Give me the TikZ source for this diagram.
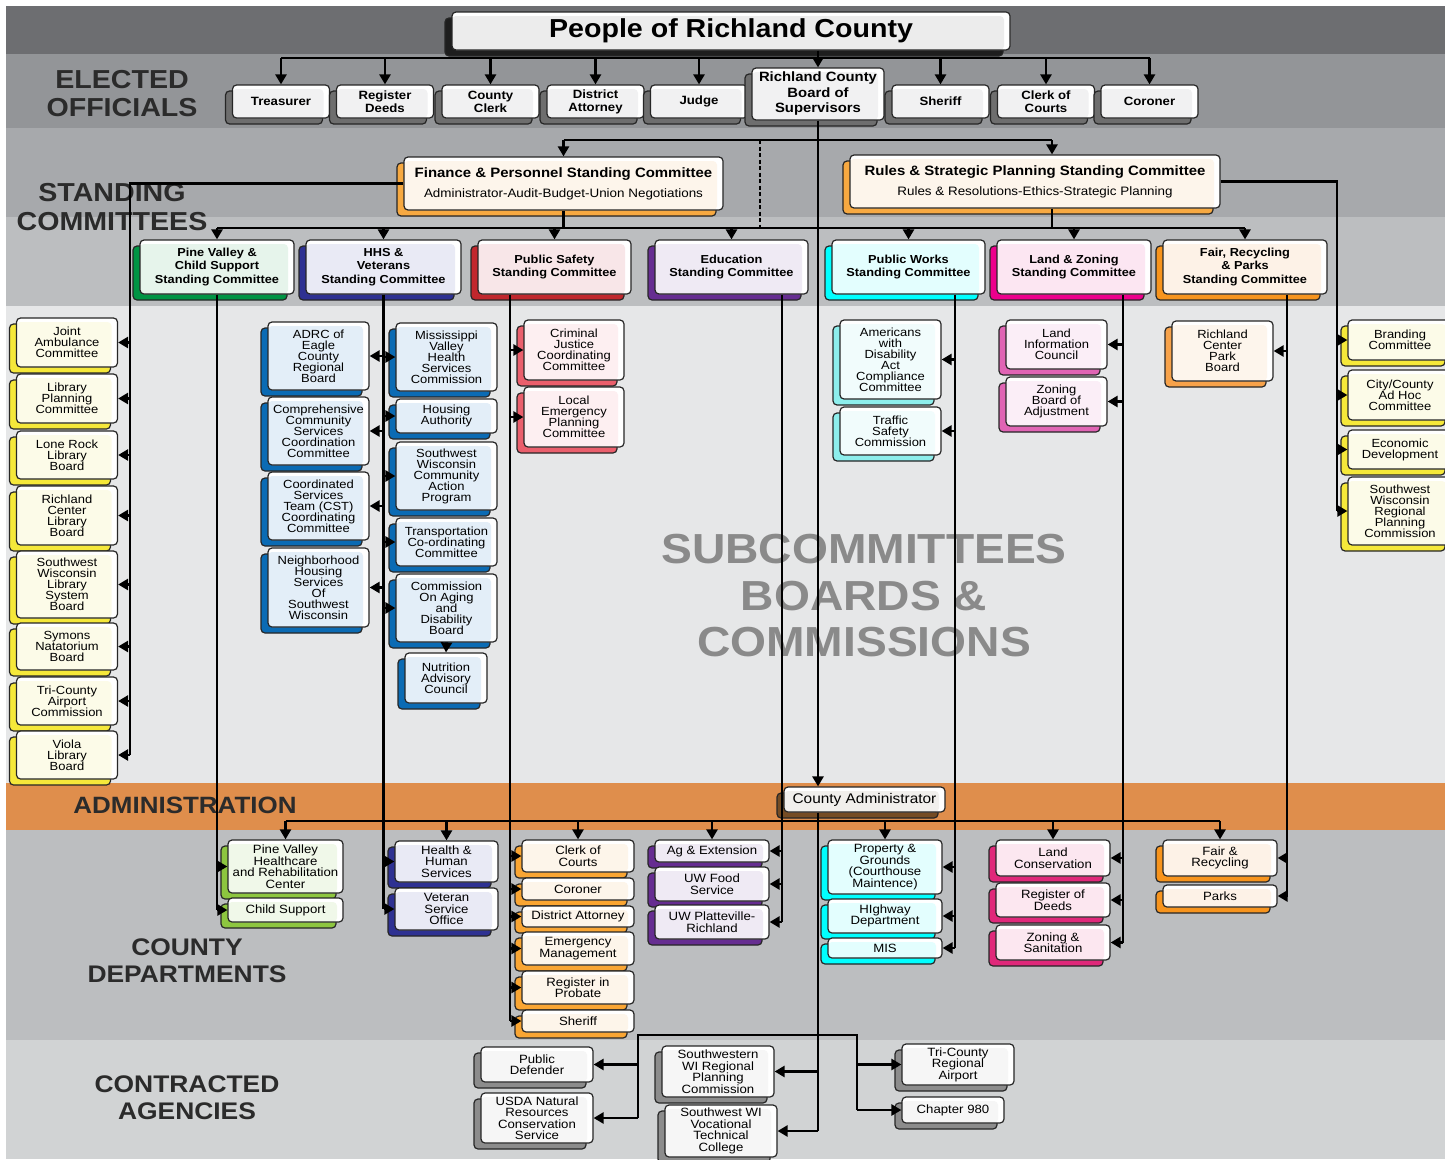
\documentclass[tikz,border=0pt]{standalone}
\usepackage{fontspec}
\setmainfont{Liberation Sans}[FakeStretch=1.1]
\usetikzlibrary{arrows.meta,shadows}

\definecolor{bandA}{HTML}{6D6E71}
\definecolor{bandB}{HTML}{939598}
\definecolor{bandC}{HTML}{A7A9AC}
\definecolor{bandD}{HTML}{BCBEC0}
\definecolor{bandE}{HTML}{E6E7E8}
\definecolor{bandF}{HTML}{DF8E4C}
\definecolor{bandG}{HTML}{BCBEC0}
\definecolor{bandH}{HTML}{D1D3D4}
\definecolor{headtext}{HTML}{2B2B2B}
\definecolor{marktext}{HTML}{8A8A8A}
\definecolor{grayS}{HTML}{6E6E6E}\definecolor{grayT}{HTML}{F1F1F2}
\definecolor{titleS}{HTML}{1E1E1E}\definecolor{titleT}{HTML}{ECECEC}
\definecolor{finS}{HTML}{F7A941}\definecolor{finT}{HTML}{FDF5EB}
\definecolor{pineS}{HTML}{009444}\definecolor{pineT}{HTML}{E6F4EB}
\definecolor{hhsS}{HTML}{2E3192}\definecolor{hhsT}{HTML}{E9EAF5}
\definecolor{safeS}{HTML}{C1272D}\definecolor{safeT}{HTML}{F8E6E8}
\definecolor{eduS}{HTML}{662D91}\definecolor{eduT}{HTML}{EFEAF4}
\definecolor{worksS}{HTML}{00FFFF}\definecolor{worksT}{HTML}{E3FEFE}
\definecolor{landS}{HTML}{EC008C}\definecolor{landT}{HTML}{FCE6F2}
\definecolor{fairS}{HTML}{F7941D}\definecolor{fairT}{HTML}{FDF2E7}
\definecolor{yelS}{HTML}{F5E83A}\definecolor{yelT}{HTML}{FCFBE8}
\definecolor{blueS}{HTML}{0B6BB4}\definecolor{blueT}{HTML}{E3EEF8}
\definecolor{redS}{HTML}{EA5F6C}\definecolor{redT}{HTML}{FDEFF1}
\definecolor{aquaS}{HTML}{8DEEEC}\definecolor{aquaT}{HTML}{F1FCFC}
\definecolor{orchS}{HTML}{E064B4}\definecolor{orchT}{HTML}{FBEEF7}
\definecolor{peachS}{HTML}{F7A24A}\definecolor{peachT}{HTML}{FDF5EC}
\definecolor{limeS}{HTML}{8DC63F}\definecolor{limeT}{HTML}{F0F8E9}
\definecolor{ambS}{HTML}{F9A533}\definecolor{ambT}{HTML}{FDF5EA}
\definecolor{crimS}{HTML}{E0287A}\definecolor{crimT}{HTML}{FCE7F0}
\definecolor{adminS}{HTML}{754C24}\definecolor{adminT}{HTML}{F1EFEC}
\definecolor{agS}{HTML}{8C8C8C}\definecolor{agT}{HTML}{F6F6F6}

\tikzset{
  >={Triangle[length=10pt,width=11pt]},
  wire/.style={line width=2.8pt},
  box/.style 2 args={draw=black!85, line width=1.2pt, rounded corners=4pt, fill=white,
    inner sep=1pt, align=center,
    general shadow={fill=#1, draw=black!85, line width=1.2pt, shadow xshift=-7pt, shadow yshift=-6pt},
    path picture={\fill[#2] (path picture bounding box.south west) rectangle ([xshift=-6pt,yshift=-4pt]path picture bounding box.north east);}},
  elect/.style={box={grayS}{grayT}, minimum width=97pt, minimum height=33pt, font=\fontsize{12}{13}\bfseries},
  stand/.style 2 args={box={#1}{#2}, minimum width=153pt, minimum height=54pt, font=\fontsize{11.6}{13.5}\bfseries},
  sub/.style 2 args={box={#1}{#2}, minimum width=101pt, font=\fontsize{11.8}{11}\selectfont},
  dept/.style 2 args={box={#1}{#2}, minimum width=114pt, font=\fontsize{12}{11.5}\selectfont},
  agency/.style={box={agS}{agT}, minimum width=112pt, font=\fontsize{12}{11.5}\selectfont},
  head/.style={align=center, text=headtext, font=\fontsize{26}{28}\bfseries},
}

\begin{document}
\begin{tikzpicture}[x=1pt,y=-1pt]
\useasboundingbox (0,0) rectangle (1445,1159);

% bands
\fill[bandA] (6,6) rectangle (1445,54);
\fill[bandB] (6,54) rectangle (1445,128);
\fill[bandC] (6,128) rectangle (1445,217);
\fill[bandD] (6,217) rectangle (1445,306);
\fill[bandE] (6,306) rectangle (1445,783);
\fill[bandF] (6,783) rectangle (1445,830);
\fill[bandG] (6,830) rectangle (1445,1040);
\fill[bandH] (6,1040) rectangle (1445,1159);

\node[head] (hElected) at (122,94) {ELECTED\\OFFICIALS};
\node[head, font=\fontsize{26}{29}\bfseries] (hStanding) at (112,207) {STANDING\\COMMITTEES};
\node[head, font=\fontsize{23.6}{26}\bfseries] (hAdmin) at (185,805) {ADMINISTRATION};
\node[head, font=\fontsize{24}{27}\bfseries] (hDept) at (187,961) {COUNTY\\DEPARTMENTS};
\node[head, font=\fontsize{24}{27}\bfseries] (hAgency) at (187,1098) {CONTRACTED\\AGENCIES};
\node[align=center, text=marktext, font=\fontsize{42}{46.5}\bfseries] (hSub) at (864,596) {SUBCOMMITTEES\\BOARDS \&\\COMMISSIONS};

% elected officials
\node[box={titleS}{titleT}, minimum width=558pt, minimum height=38pt, font=\fontsize{26}{28}\bfseries] (title) at (731,31) {People of Richland County};
\node[elect] (treas) at (281,101.5) {Treasurer};
\node[elect] (regdeeds) at (385,101.5) {Register\\Deeds};
\node[elect] (clerk) at (490.5,101.5) {County\\Clerk};
\node[elect] (da) at (595.5,101.5) {District\\Attorney};
\node[elect] (judge) at (699,101.5) {Judge};
\node[elect, minimum width=132pt, minimum height=52pt, font=\fontsize{13.5}{15.5}\bfseries] (board) at (818,94) {Richland County\\Board of\\Supervisors};
\node[elect] (sheriff) at (940.5,101.5) {Sheriff};
\node[elect] (clerkcourts) at (1046,101.5) {Clerk of\\Courts};
\node[elect] (coroner) at (1149.5,101.5) {Coroner};

% standing committees
\node[box={finS}{finT}, minimum width=319pt, minimum height=53pt, font=\fontsize{12.2}{15}\selectfont] (finance) at (563.5,183.5)
  {{\fontsize{13.6}{15}\bfseries Finance \& Personnel Standing Committee}\\[5pt]Administrator-Audit-Budget-Union Negotiations};
\node[box={finS}{finT}, minimum width=370pt, minimum height=53pt, font=\fontsize{12.2}{15}\selectfont] (rules) at (1035,181.5)
  {{\fontsize{13.6}{15}\bfseries Rules \& Strategic Planning Standing Committee}\\[5pt]Rules \& Resolutions-Ethics-Strategic Planning};

\node[stand={pineS}{pineT}, minimum width=154pt] (pvsc) at (217,267) {Pine Valley \&\\Child Support\\Standing Committee};
\node[stand={hhsS}{hhsT}, minimum width=155pt] (hhssc) at (383.5,267) {HHS \&\\Veterans\\Standing Committee};
\node[stand={safeS}{safeT}] (pssc) at (554.5,267) {Public Safety\\Standing Committee};
\node[stand={eduS}{eduT}] (edsc) at (731.5,267) {Education\\Standing Committee};
\node[stand={worksS}{worksT}] (pwsc) at (908.5,267) {Public Works\\Standing Committee};
\node[stand={landS}{landT}, minimum width=154pt] (lzsc) at (1074,267) {Land \& Zoning\\Standing Committee};
\node[stand={fairS}{fairT}, minimum width=164pt] (frpsc) at (1245,267) {Fair, Recycling\\\& Parks\\Standing Committee};

% subcommittees, boards & commissions
\node[sub={yelS}{yelT}, minimum height=49pt] (jac) at (67,342.5) {Joint\\Ambulance\\Committee};
\node[sub={yelS}{yelT}, minimum height=49pt] (lpc) at (67,398.5) {Library\\Planning\\Committee};
\node[sub={yelS}{yelT}, minimum height=48pt] (lrlb) at (67,455) {Lone Rock\\Library\\Board};
\node[sub={yelS}{yelT}, minimum height=59pt] (rclb) at (67,515.5) {Richland\\Center\\Library\\Board};
\node[sub={yelS}{yelT}, minimum height=67pt] (swlsb) at (67,584.5) {Southwest\\Wisconsin\\Library\\System\\Board};
\node[sub={yelS}{yelT}, minimum height=47pt] (snb) at (67,646.5) {Symons\\Natatorium\\Board};
\node[sub={yelS}{yelT}, minimum height=48pt] (tcac) at (67,701) {Tri-County\\Airport\\Commission};
\node[sub={yelS}{yelT}, minimum height=48pt] (vlb) at (67,755) {Viola\\Library\\Board};

\node[sub={blueS}{blueT}, minimum height=68pt] (adrc) at (318.5,356) {ADRC of\\Eagle\\County\\Regional\\Board};
\node[sub={blueS}{blueT}, minimum height=68pt] (ccscc) at (318.5,431) {Comprehensive\\Community\\Services\\Coordination\\Committee};
\node[sub={blueS}{blueT}, minimum height=68pt] (cst) at (318.5,506) {Coordinated\\Services\\Team (CST)\\Coordinating\\Committee};
\node[sub={blueS}{blueT}, minimum height=79pt] (nhs) at (318.5,587.5) {Neighborhood\\Housing\\Services\\Of\\Southwest\\Wisconsin};
\node[sub={blueS}{blueT}, minimum height=68pt] (mvhsc) at (446.5,357) {Mississippi\\Valley\\Health\\Services\\Commission};
\node[sub={blueS}{blueT}, minimum height=34pt] (ha) at (446.5,416) {Housing\\Authority};
\node[sub={blueS}{blueT}, minimum height=68pt] (swcap) at (446.5,476) {Southwest\\Wisconsin\\Community\\Action\\Program};
\node[sub={blueS}{blueT}, minimum height=48pt] (tcc) at (446.5,542) {Transportation\\Co-ordinating\\Committee};
\node[sub={blueS}{blueT}, minimum height=68pt] (coa) at (446.5,608) {Commission\\On Aging\\and\\Disability\\Board};
\node[sub={blueS}{blueT}, minimum width=82pt, minimum height=50pt] (nac) at (446,678) {Nutrition\\Advisory\\Council};

\node[sub={redS}{redT}, minimum width=100pt, minimum height=60pt] (cjcc) at (574,350) {Criminal\\Justice\\Coordinating\\Committee};
\node[sub={redS}{redT}, minimum width=100pt, minimum height=60pt] (lepc) at (574,417) {Local\\Emergency\\Planning\\Committee};

\node[sub={aquaS}{aquaT}, minimum height=79pt] (ada) at (890.5,359.5) {Americans\\with\\Disability\\Act\\Compliance\\Committee};
\node[sub={aquaS}{aquaT}, minimum height=48pt] (tsc) at (890.5,431) {Traffic\\Safety\\Commission};

\node[sub={orchS}{orchT}, minimum height=49pt] (lic) at (1056.5,344.5) {Land\\Information\\Council};
\node[sub={orchS}{orchT}, minimum height=49pt] (zba) at (1056.5,401.5) {Zoning\\Board of\\Adjustment};

\node[sub={peachS}{peachT}, minimum height=60pt] (rcpb) at (1222.5,351) {Richland\\Center\\Park\\Board};

\node[sub={yelS}{yelT}, minimum width=104pt, minimum height=40pt] (bc) at (1400,340) {Branding\\Committee};
\node[sub={yelS}{yelT}, minimum width=104pt, minimum height=50pt] (cca) at (1400,395) {City/County\\Ad Hoc\\Committee};
\node[sub={yelS}{yelT}, minimum width=104pt, minimum height=39pt] (ecd) at (1400,449.5) {Economic\\Development};
\node[sub={yelS}{yelT}, minimum width=104pt, minimum height=68pt] (swrpc) at (1400,511) {Southwest\\Wisconsin\\Regional\\Planning\\Commission};

% administration
\node[box={adminS}{adminT}, minimum width=161pt, minimum height=25pt, font=\fontsize{14}{16}\selectfont] (admin) at (864.5,799.5) {County Administrator};

% county departments
\node[dept={limeS}{limeT}, minimum width=115pt, minimum height=53pt] (pvh) at (285.5,866.5) {Pine Valley\\Healthcare\\and Rehabilitation\\Center};
\node[dept={limeS}{limeT}, minimum width=115pt, minimum height=24pt] (cs) at (285.5,910) {Child Support};

\node[dept={hhsS}{hhsT}, minimum width=103pt, minimum height=41pt] (hhs) at (446.5,861.5) {Health \&\\Human\\Services};
\node[dept={hhsS}{hhsT}, minimum width=103pt, minimum height=42pt] (vso) at (446.5,909) {Veteran\\Service\\Office};

\node[dept={ambS}{ambT}, minimum width=112pt, minimum height=32pt] (coc) at (578,856) {Clerk of\\Courts};
\node[dept={ambS}{ambT}, minimum width=112pt, minimum height=22pt] (cor) at (578,889) {Coroner};
\node[dept={ambS}{ambT}, minimum width=112pt, minimum height=21pt] (dao) at (578,916.5) {District Attorney};
\node[dept={ambS}{ambT}, minimum width=112pt, minimum height=33pt] (em) at (578,948.5) {Emergency\\Management};
\node[dept={ambS}{ambT}, minimum width=112pt, minimum height=33pt] (rip) at (578,987.5) {Register in\\Probate};
\node[dept={ambS}{ambT}, minimum width=112pt, minimum height=22pt] (sher) at (578,1021) {Sheriff};

\node[dept={eduS}{eduT}, minimum height=22pt] (agx) at (712,851) {Ag \& Extension};
\node[dept={eduS}{eduT}, minimum height=34pt] (uwfs) at (712,884) {UW Food\\Service};
\node[dept={eduS}{eduT}, minimum height=34pt] (uwp) at (712,922) {UW Platteville-\\Richland};

\node[dept={worksS}{worksT}, minimum height=54pt] (pg) at (885,867) {Property \&\\Grounds\\(Courthouse\\Maintence)};
\node[dept={worksS}{worksT}, minimum height=34pt] (hwy) at (885,916) {HIghway\\Department};
\node[dept={worksS}{worksT}, minimum height=20pt] (mis) at (885,948) {MIS};

\node[dept={crimS}{crimT}, minimum height=36pt] (lc) at (1053,858) {Land\\Conservation};
\node[dept={crimS}{crimT}, minimum height=34pt] (rod) at (1053,900) {Register of\\Deeds};
\node[dept={crimS}{crimT}, minimum height=35pt] (zs) at (1053,942.5) {Zoning \&\\Sanitation};

\node[dept={fairS}{fairT}, minimum height=36pt] (fr) at (1220,858) {Fair \&\\Recycling};
\node[dept={fairS}{fairT}, minimum height=22pt] (pk) at (1220,896) {Parks};

% contracted agencies
\node[agency, minimum height=35pt] (pd) at (537,1064.5) {Public\\Defender};
\node[agency, minimum height=50pt] (usda) at (537,1118) {USDA Natural\\Resources\\Conservation\\Service};
\node[agency, minimum height=51pt] (swrp) at (718,1071.5) {Southwestern\\WI Regional\\Planning\\Commission};
\node[agency, minimum height=52pt] (swvtc) at (721,1131) {Southwest WI\\Vocational\\Technical\\College};
\node[agency, minimum height=41pt] (tcra) at (958,1064.5) {Tri-County\\Regional\\Airport};
\node[agency, minimum width=102pt, minimum height=26pt] (ch980) at (953,1110) {Chapter 980};

% connectors
\coordinate (eBar) at (0,58);
\coordinate (sBar) at (0,140);
\coordinate (cBar) at (0,228);
\coordinate (aBar) at (0,821);
\coordinate (kBar) at (0,1035);
\coordinate (rulesX) at (1052,0);
\coordinate (dashX) at (760,0);
\coordinate (finL) at (130,0);
\coordinate (rulR) at (1337,0);
\coordinate (psT) at (510,0);
\coordinate (edT) at (782,0);
\coordinate (pwT) at (955,0);
\coordinate (lzT) at (1123,0);
\coordinate (frT) at (1287,0);
\coordinate (kL) at (638,0);
\coordinate (kR) at (857,0);

\draw[wire] (title.south -| board.north) -- (board.north |- eBar);
\draw[wire] (treas.north |- eBar) -- (coroner.north |- eBar);
\foreach \n in {treas,regdeeds,clerk,da,judge,board,sheriff,clerkcourts,coroner}
  \draw[wire,->] (\n.north |- eBar) -- (\n.north);

\draw[wire] (finance.north |- sBar) -- (rulesX |- sBar);
\draw[wire,->] (finance.north |- sBar) -- (finance.north);
\draw[wire,->] (rulesX |- sBar) -- (rulesX |- rules.north);
\draw[wire] (pvsc.north |- cBar) -- (frpsc.north |- cBar);
\draw[wire] (finance.south) -- (finance.south |- cBar);
\draw[wire] (rulesX |- rules.south) -- (rulesX |- cBar);
\draw[line width=2.2pt, dash pattern=on 4pt off 2.5pt] (dashX |- sBar) -- (dashX |- cBar);
\foreach \n in {pvsc,hhssc,pssc,edsc,pwsc,lzsc,frpsc}
  \draw[wire,->] (\n.north |- cBar) -- (\n.north);

\draw[wire] (finance.west) -| (finL |- vlb.east);
\foreach \n in {jac,lpc,lrlb,rclb,swlsb,snb,tcac,vlb}
  \draw[wire,->] (finL |- \n.east) -- (\n.east);
\draw[wire] (rules.east) -| (rulR |- swrpc.west);
\foreach \n in {bc,cca,ecd,swrpc}
  \draw[wire,->] (rulR |- \n.west) -- (\n.west);

\draw[wire] (pvsc.south) -- (pvsc.south |- cs.west);
\foreach \n in {pvh,cs}
  \draw[wire,->] (pvsc.south |- \n.west) -- (\n.west);

\draw[wire] (hhssc.south) -- (hhssc.south |- vso.west);
\foreach \n in {adrc,ccscc,cst,nhs}
  \draw[wire,->] (hhssc.south |- \n.east) -- (\n.east);
\foreach \n in {mvhsc,ha,swcap,tcc,coa,hhs,vso}
  \draw[wire,->] (hhssc.south |- \n.west) -- (\n.west);
\draw[wire,->] (coa.south) -- (nac.north);

\draw[wire] (psT |- pssc.south) -- (psT |- sher.west);
\foreach \n in {cjcc,lepc,coc,cor,dao,em,rip,sher}
  \draw[wire,->] (psT |- \n.west) -- (\n.west);

\draw[wire] (edT |- edsc.south) -- (edT |- uwp.east);
\foreach \n in {agx,uwfs,uwp}
  \draw[wire,->] (edT |- \n.east) -- (\n.east);

\draw[wire] (pwT |- pwsc.south) -- (pwT |- mis.east);
\foreach \n in {ada,tsc,pg,hwy,mis}
  \draw[wire,->] (pwT |- \n.east) -- (\n.east);

\draw[wire] (lzT |- lzsc.south) -- (lzT |- zs.east);
\foreach \n in {lic,zba,lc,rod,zs}
  \draw[wire,->] (lzT |- \n.east) -- (\n.east);

\draw[wire] (frT |- frpsc.south) -- (frT |- pk.east);
\foreach \n in {rcpb,fr,pk}
  \draw[wire,->] (frT |- \n.east) -- (\n.east);

\draw[wire,->] (board.south) -- (board.south |- admin.north);
\draw[wire] (pvh.north |- aBar) -- (fr.north |- aBar);
\foreach \n in {pvh,hhs,coc,agx,pg,lc,fr}
  \draw[wire,->] (\n.north |- aBar) -- (\n.north);

\draw[wire] (board.south |- admin.south) -- (board.south |- swvtc.east);
\foreach \n in {swrp,swvtc}
  \draw[wire,->] (board.south |- \n.east) -- (\n.east);
\draw[wire] (kL |- usda.east) -- (kL |- kBar) -- (kR |- kBar) -- (kR |- ch980.west);
\foreach \n in {pd,usda}
  \draw[wire,->] (kL |- \n.east) -- (\n.east);
\foreach \n in {tcra,ch980}
  \draw[wire,->] (kR |- \n.west) -- (\n.west);
\end{tikzpicture}
\end{document}
